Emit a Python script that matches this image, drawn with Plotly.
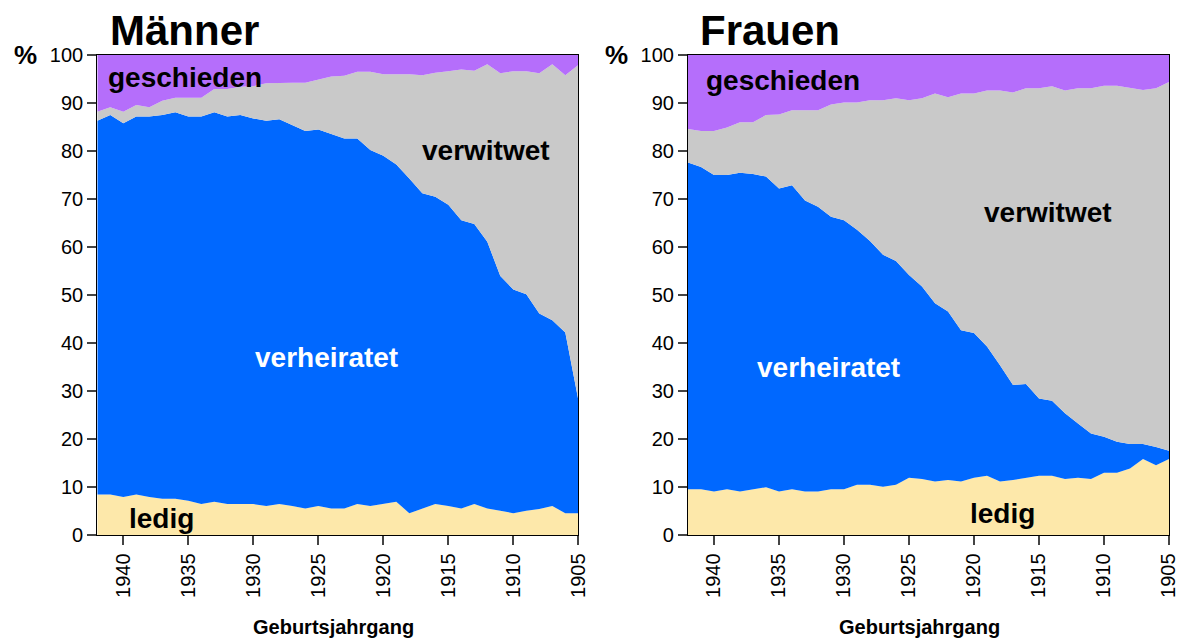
import plotly.graph_objects as go

W, H = 1184, 639
FONT = "Liberation Sans, Arial, Helvetica, sans-serif"

# Birth cohorts (x axis runs from 1942 down to 1905)
years = list(range(1942, 1904, -1))
tick_years = [1940, 1935, 1930, 1925, 1920, 1915, 1910, 1905]
tick_labels = [str(t) for t in tick_years]
y_ticks = list(range(0, 101, 10))

# Men: cumulative boundaries in % (ledig, +verheiratet, +verwitwet; geschieden up to 100)
m_ledig = [8.5, 8.5, 8.0, 8.5, 8.0, 7.6, 7.6, 7.2, 6.5, 7.0, 6.5, 6.5, 6.5, 6.1, 6.5, 6.1, 5.6, 6.1, 5.6,
           5.6, 6.5, 6.1, 6.5, 7.0, 4.6, 5.5, 6.5, 6.1, 5.6, 6.5, 5.6, 5.1, 4.6, 5.1, 5.5, 6.1, 4.6, 4.6]
m_verheiratet_top = [86.3, 87.5, 85.8, 87.2, 87.2, 87.5, 88.1, 87.2, 87.2, 88.1, 87.2, 87.5, 86.8, 86.3, 86.6,
                     85.4, 84.2, 84.5, 83.6, 82.6, 82.6, 80.2, 79.0, 77.2, 74.3, 71.2, 70.5, 68.8, 65.6, 64.8,
                     61.1, 54.0, 51.2, 50.2, 46.2, 44.8, 42.2, 28.2]
m_verwitwet_top = [88.2, 89.1, 88.2, 89.6, 89.1, 90.5, 91.1, 91.1, 91.1, 92.9, 92.9, 93.4, 93.5, 94.1, 94.2,
                   94.2, 94.2, 94.9, 95.5, 95.7, 96.5, 96.5, 96.0, 96.0, 96.0, 95.8, 96.3, 96.6, 97.0, 96.7,
                   98.1, 96.2, 96.6, 96.6, 96.2, 98.1, 95.8, 97.9]

# Women
f_ledig = [9.6, 9.6, 9.1, 9.6, 9.1, 9.6, 10.0, 9.1, 9.6, 9.1, 9.1, 9.6, 9.6, 10.5, 10.5, 10.1, 10.5, 12.0, 11.7,
           11.2, 11.5, 11.2, 12.0, 12.4, 11.2, 11.5, 12.0, 12.4, 12.4, 11.7, 12.0, 11.7, 13.0, 13.0, 13.9, 15.9,
           14.6, 15.9]
f_verheiratet_top = [77.6, 76.7, 75.0, 75.0, 75.5, 75.2, 74.7, 72.2, 72.9, 69.7, 68.4, 66.3, 65.6, 63.6, 61.3,
                     58.4, 57.1, 54.2, 51.8, 48.3, 46.6, 42.7, 42.1, 39.3, 35.4, 31.3, 31.5, 28.5, 28.0, 25.4,
                     23.3, 21.2, 20.5, 19.5, 19.0, 19.0, 18.4, 17.6]
f_verwitwet_top = [84.6, 84.2, 84.2, 84.9, 86.0, 86.0, 87.5, 87.6, 88.5, 88.5, 88.5, 89.7, 90.1, 90.1, 90.6,
                   90.6, 91.0, 90.6, 91.0, 92.0, 91.2, 92.0, 92.0, 92.6, 92.6, 92.2, 93.1, 93.1, 93.5, 92.6,
                   93.1, 93.1, 93.6, 93.6, 93.2, 92.7, 93.1, 94.4]
total = [100] * len(years)

C_LEDIG = "#FDE8AA"
C_VERH = "#0068FF"
C_VERW = "#C9C9C9"
C_GESCH = "#B56EFB"

fig = go.Figure()

def add_panel(xa, ya, ledig, verh, verw):
    series = [(ledig, C_LEDIG, "tozeroy"), (verh, C_VERH, "tonexty"),
              (verw, C_VERW, "tonexty"), (total, C_GESCH, "tonexty")]
    for vals, col, fill in series:
        fig.add_trace(go.Scatter(x=years, y=vals, mode="lines", line=dict(width=0, color=col),
                                 fill=fill, fillcolor=col, xaxis=xa, yaxis=ya,
                                 hoverinfo="skip", showlegend=False))

add_panel("x", "y", m_ledig, m_verheiratet_top, m_verwitwet_top)
add_panel("x2", "y2", f_ledig, f_verheiratet_top, f_verwitwet_top)

def px(x):
    return x / W

def py(y):
    return 1 - y / H

y_dom = [py(535.3), py(55)]
xcommon = dict(range=[1942, 1905], tickvals=tick_years, ticktext=tick_labels, tickangle=-90,
               ticks="outside", ticklen=9, tickwidth=1.5, tickcolor="#444", automargin=False,
               showline=True, mirror=True, linecolor="black", linewidth=1.2,
               showgrid=False, zeroline=False, tickfont=dict(family=FONT, size=20, color="black"))
ycommon = dict(range=[0, 100], tickvals=y_ticks, ticks="outside", ticklen=9, tickwidth=1.5,
               tickcolor="#444", showline=True, mirror=True, linecolor="black", linewidth=1.2,
               showgrid=False, zeroline=False, automargin=False,
               tickfont=dict(family=FONT, size=20, color="black"), domain=y_dom)

fig.update_layout(
    width=W, height=H,
    margin=dict(l=0, r=0, t=0, b=0, autoexpand=False),
    paper_bgcolor="white", plot_bgcolor="white",
    xaxis=dict(domain=[px(97.3), px(578.3)], anchor="y", **xcommon),
    yaxis=dict(anchor="x", **ycommon),
    xaxis2=dict(domain=[px(688), px(1169)], anchor="y2", **xcommon),
    yaxis2=dict(anchor="x2", **ycommon),
)

def ann(text, x, y, size, color="black", xanchor="center"):
    fig.add_annotation(text=text, x=px(x), y=py(y), xref="paper", yref="paper",
                       xanchor=xanchor, yanchor="middle", showarrow=False,
                       font=dict(family=FONT, size=size, color=color))

# Panel titles
ann("<b>Männer</b>", 108, 30, 42, xanchor="left")
ann("<b>Frauen</b>", 698, 30, 42, xanchor="left")
# % markers
ann("<b>%</b>", 25, 55, 26)
ann("<b>%</b>", 616, 55, 26)
# x axis titles
ann("<b>Geburtsjahrgang</b>", 333, 627, 20)
ann("<b>Geburtsjahrgang</b>", 920, 627, 20)
# Category labels - men
ann("<b>geschieden</b>", 185, 78, 28)
ann("<b>verwitwet</b>", 486, 150, 28)
ann("<b>verheiratet</b>", 326, 357, 28, color="white")
ann("<b>ledig</b>", 161, 518, 28)
# Category labels - women
ann("<b>geschieden</b>", 783, 80, 28)
ann("<b>verwitwet</b>", 1048, 213, 28)
ann("<b>verheiratet</b>", 828, 367, 28, color="white")
ann("<b>ledig</b>", 1002, 513, 28)

fig.write_html(
    "out.html",
    config={"displayModeBar": False},
    post_script="document.body.style.margin='0';document.body.style.overflow='hidden';",
)
